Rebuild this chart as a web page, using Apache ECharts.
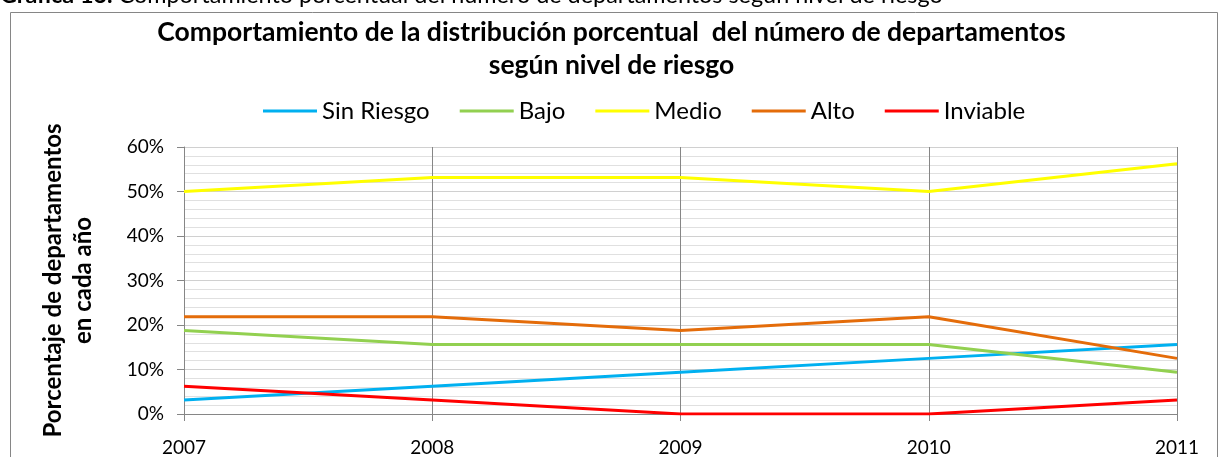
<!DOCTYPE html>
<html>
<head>
<meta charset="utf-8">
<script src="https://cdn.jsdelivr.net/npm/echarts@6/dist/echarts.min.js"></script>
<style>
  html, body { margin: 0; padding: 0; background: #fff; }
  #chart { width: 1223px; height: 457px; }
</style>
</head>
<body>
<div id="chart"></div>
<script>
const years = ['2007', '2008', '2009', '2010', '2011'];
const sinRiesgo = [0.03125, 0.0625, 0.09375, 0.125, 0.15625];
const bajo = [0.1875, 0.15625, 0.15625, 0.15625, 0.09375];
const medio = [0.5, 0.53125, 0.53125, 0.5, 0.5625];
const alto = [0.21875, 0.21875, 0.1875, 0.21875, 0.125];
const inviable = [0.0625, 0.03125, 0, 0, 0.03125];

const font = 'Lato';

function serie(name, data, color) {
  return {
    name: name,
    type: 'line',
    data: data,
    symbol: 'none',
    lineStyle: { width: 3, color: color },
    itemStyle: { color: color }
  };
}

let myChart = echarts.init(document.getElementById('chart'));
let option = {
  animation: false,
  textStyle: { fontFamily: font },
  graphic: [
    {
      type: 'rect',
      shape: { x: 10.5, y: 12.5, width: 1207, height: 470 },
      style: { fill: 'none', stroke: '#868686', lineWidth: 1 }
    },
    {
      type: 'text',
      left: 0,
      top: -16,
      style: {
        text: '{b|Gráfica 13.} Comportamiento porcentual del número de departamentos según nivel de riesgo',
        fontFamily: font,
        fontSize: 23.4,
        fill: '#000',
        rich: { b: { fontWeight: 'bold', fontSize: 23.4, fontFamily: font } }
      }
    }
  ],
  title: {
    text: 'Comportamiento de la distribución porcentual  del número de departamentos\nsegún nivel de riesgo',
    left: 'center',
    top: 11,
    textStyle: { fontFamily: font, fontSize: 26.5, fontWeight: 'bold', color: '#000', lineHeight: 33, align: 'center' }
  },
  legend: {
    top: 94,
    left: 258,
    itemWidth: 54,
    itemHeight: 3,
    itemGap: 30,
    icon: 'rect',
    textStyle: { fontFamily: font, fontSize: 24, color: '#000' },
    data: ['Sin Riesgo', 'Bajo', 'Medio', 'Alto', 'Inviable']
  },
  grid: { left: 184, right: 46, top: 147, bottom: 42 },
  xAxis: {
    type: 'category',
    data: years,
    boundaryGap: false,
    axisLine: { lineStyle: { color: '#868686' } },
    axisTick: { show: true, length: 7, lineStyle: { color: '#868686' } },
    axisLabel: { fontSize: 19, color: '#000', margin: 24 },
    splitLine: { show: true, lineStyle: { color: '#868686' } }
  },
  yAxis: {
    type: 'value',
    min: 0,
    max: 0.6,
    interval: 0.1,
    name: 'Porcentaje de departamentos\nen cada año',
    nameLocation: 'middle',
    nameGap: 86,
    nameTextStyle: { fontFamily: font, fontSize: 24, fontWeight: 'bold', color: '#000', lineHeight: 30 },
    axisLine: { show: true, lineStyle: { color: '#868686' } },
    axisTick: { show: true, length: 7, lineStyle: { color: '#868686' } },
    axisLabel: { fontSize: 19, color: '#000', margin: 20, formatter: v => Math.round(v * 100) + '%' },
    splitLine: { show: true, lineStyle: { color: '#d0d0d0' } },
    minorTick: { show: false, splitNumber: 5 },
    minorSplitLine: { show: true, lineStyle: { color: '#e0e0e0' } }
  },
  series: [
    serie('Sin Riesgo', sinRiesgo, '#00B0F0'),
    serie('Bajo', bajo, '#92D050'),
    serie('Medio', medio, '#FFFF00'),
    serie('Alto', alto, '#E46C0A'),
    serie('Inviable', inviable, '#FF0000')
  ]
};
myChart.setOption(option);
</script>
</body>
</html>
